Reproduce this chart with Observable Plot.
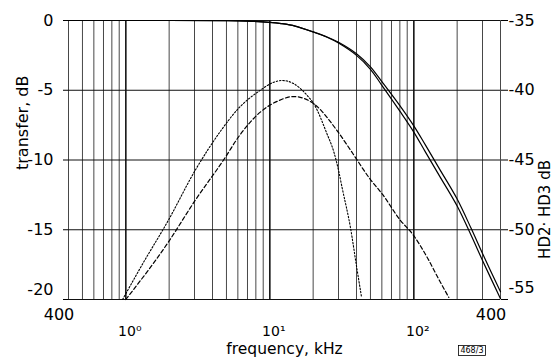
<!DOCTYPE html>
<html><head><meta charset="utf-8">
<script src="https://cdn.jsdelivr.net/npm/d3@7"></script>
<script src="https://cdn.jsdelivr.net/npm/@observablehq/plot@0.6"></script>
<style>body{margin:0;background:#fff} svg{display:block}</style>
</head><body><div id="chart"></div>
<script>
// ---- data ----
const transferFreq  = [0.4, 2, 5, 7, 10, 12, 15, 20, 25, 30, 40, 50, 60, 80, 100, 120, 150, 200, 250, 300, 400];
const transferInner = [0, 0, -0.01, -0.04, -0.13, -0.22, -0.4, -0.82, -1.2, -1.62, -2.5, -3.5, -4.65, -6.5, -8.0, -9.4, -11.1, -13.3, -15.4, -17.2, -19.95];
const transferOuter = [0, 0, -0.01, -0.04, -0.13, -0.22, -0.4, -0.82, -1.18, -1.56, -2.38, -3.32, -4.38, -6.1, -7.55, -8.9, -10.6, -12.8, -14.9, -16.7, -19.45];

const hd3Freq   = [0.95, 1.3, 1.97, 3.03, 4.5, 6.06, 8.59, 10.5, 12.2, 14.5, 18.2, 20.2, 24.9, 27.8, 30.1, 31.8, 36.4, 40.0, 43.4];
const hd3Values = [-55.0, -52.5, -49.34, -45.75, -43.0, -41.3, -40.0, -39.45, -39.3, -39.5, -40.38, -40.97, -43.1, -44.4, -45.8, -47.0, -49.9, -52.6, -54.85];

const hd2Freq   = [1.0, 1.97, 3.03, 4.89, 6.06, 8.59, 11.5, 14.6, 20.2, 29.3, 36.4, 50, 60.3, 80.9, 97.9, 123.7, 150, 175];
const hd2Values = [-55.0, -50.9, -47.9, -44.84, -43.35, -41.57, -40.75, -40.45, -40.97, -42.89, -44.3, -46.4, -47.43, -49.34, -50.3, -51.97, -53.6, -54.85];

const yTicks = [0, -5, -10, -15, -20];
const transferTickLabels = ["0", "-5", "-10", "-15", "-20"];
const hdTickLabels = ["-35", "-40", "-45", "-50", "-55"];
const hdOffset = 35; // right axis value = left axis value - 35
const xEndTicks = [0.4, 400];
const xEndLabels = ["400", "400"];
const xDecadeTicks = [1, 10, 100];
const xDecadeLabels = ["10\u2070", "10\u00B9", "10\u00B2"];
const gridFreqs = [0.4,0.5,0.6,0.7,0.8,0.9,1,2,3,4,5,6,7,8,9,10,20,30,40,50,60,70,80,90,100,200,300,400];

// ---- tables ----
const transfer = transferFreq.flatMap((f, i) => [
  {f, v: transferInner[i], s: "inner"},
  {f, v: transferOuter[i], s: "outer"}
]);
const hd3 = hd3Freq.map((f, i) => ({f, v: hd3Values[i]}));
const hd2 = hd2Freq.map((f, i) => ({f, v: hd2Values[i]}));
const leftMap = new Map(yTicks.map((t, i) => [t, transferTickLabels[i]]));
const rightMap = new Map(yTicks.map((t, i) => [t, hdTickLabels[i]]));
const endTicks = xEndTicks.map((t, i) => ({t, label: xEndLabels[i]}));
const decTicks = xDecadeTicks.map((t, i) => ({t, label: xDecadeLabels[i]}));

const font = "DejaVu Sans, sans-serif";
const chart = Plot.plot({
  width: 554, height: 358,
  marginLeft: 68, marginRight: 54, marginTop: 20, marginBottom: 59,
  style: {fontFamily: font, fontSize: "16px", color: "#000", background: "#fff"},
  x: {type: "log", domain: [0.4, 400], axis: null},
  y: {domain: [-20, 0], axis: null},
  marks: [
    Plot.ruleX(gridFreqs, {stroke: "#333", strokeWidth: 0.9}),
    Plot.ruleX(xDecadeTicks, {stroke: "#111", strokeWidth: 1.4}),
    Plot.ruleY(yTicks, {stroke: "#111", strokeWidth: 1}),
    Plot.line(transfer, {x: "f", y: "v", z: "s", stroke: "#000", strokeWidth: 1.2, curve: "catmull-rom"}),
    Plot.line(hd3, {x: "f", y: d => d.v + hdOffset, stroke: "#000", strokeWidth: 1.1, strokeDasharray: "1.5,1.8", curve: "monotone-x"}),
    Plot.line(hd2, {x: "f", y: d => d.v + hdOffset, stroke: "#000", strokeWidth: 1.2, strokeDasharray: "4,2.5", curve: "monotone-x"}),
    // left axis
    Plot.axisY(yTicks.slice(0, 4), {anchor: "left", label: null, tickSize: 5, tickPadding: 10, tickFormat: d => leftMap.get(d)}),
    Plot.axisY([-20], {anchor: "left", label: null, tickSize: 5, tickFormat: () => ""}),
    Plot.axisY([-20], {anchor: "left", label: null, tickSize: 0, tickPadding: 15, dy: -10, tickFormat: d => leftMap.get(d)}),
    // right axis
    Plot.axisY(yTicks.slice(0, 4), {anchor: "right", label: null, tickSize: 7, tickPadding: 1, tickFormat: d => rightMap.get(d)}),
    Plot.axisY([-20], {anchor: "right", label: null, tickSize: 7, tickFormat: () => ""}),
    Plot.axisY([-20], {anchor: "right", label: null, tickSize: 0, tickPadding: 8, dy: -12, tickFormat: d => rightMap.get(d)}),
    // x axis labels
    Plot.text(endTicks, {x: "t", text: "label", frameAnchor: "bottom", lineAnchor: "bottom", dy: 20, dx: -9.5, fontSize: 16}),
    Plot.text(decTicks, {x: "t", text: "label", frameAnchor: "bottom", lineAnchor: "bottom", dy: 36, dx: 4, fontSize: 14}),
    // titles
    Plot.text(["frequency, kHz"], {frameAnchor: "bottom", lineAnchor: "bottom", dy: 54, fontSize: 15.5}),
    Plot.text(["transfer, dB"], {frameAnchor: "left", lineAnchor: "bottom", rotate: -90, dx: -41, dy: 10, fontSize: 16}),
    Plot.text(["HD2\u00B7 HD3 dB"], {frameAnchor: "right", lineAnchor: "bottom", rotate: -90, dx: 49, dy: 0, fontSize: 15}),
    Plot.text(["468/3"], {frameAnchor: "bottom-right", lineAnchor: "middle", dx: -17, dy: 51, fontSize: 8})
  ]
});
document.getElementById("chart").appendChild(chart);
// box around the figure code
d3.select(chart).selectAll("text").filter(function() { return this.textContent === "468/3"; }).each(function() {
  const b = this.getBBox();
  d3.select(this.parentNode).insert("rect", "text")
    .attr("transform", this.getAttribute("transform"))
    .attr("x", b.x - 2).attr("y", b.y - 0.5).attr("width", b.width + 4).attr("height", b.height + 1)
    .attr("fill", "none").attr("stroke", "#000").attr("stroke-width", 0.8);
});
</script>
</body></html>
